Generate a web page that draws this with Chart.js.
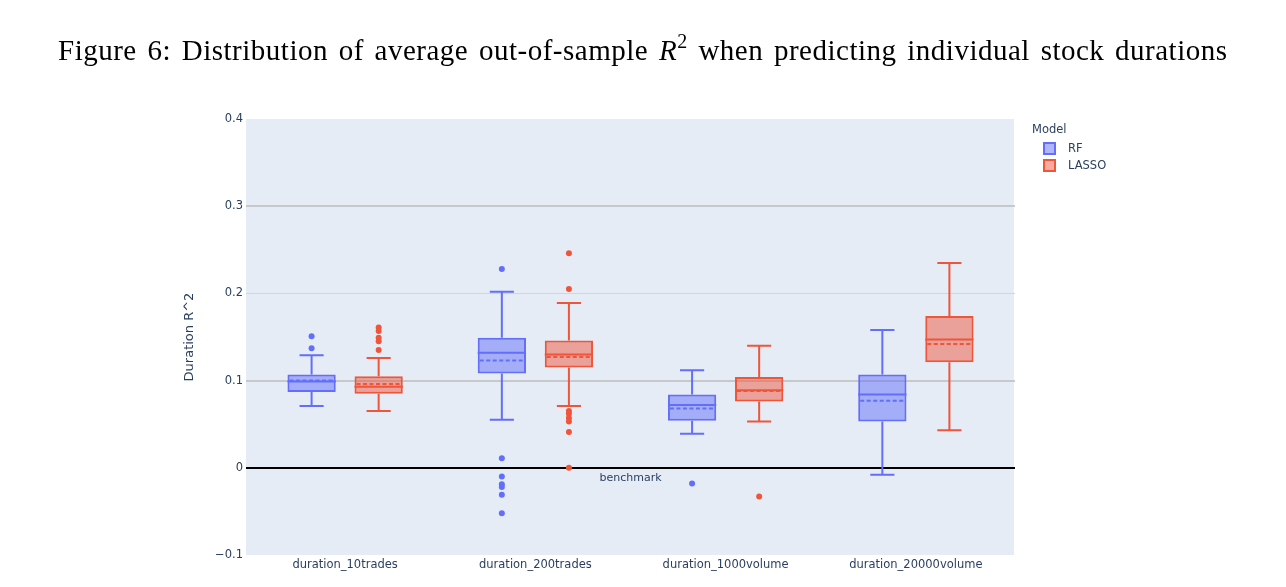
<!DOCTYPE html>
<html>
<head>
<meta charset="utf-8">
<script src="https://cdn.jsdelivr.net/npm/chart.js@4.4.1/dist/chart.umd.min.js"></script>
<style>
  html, body { margin: 0; padding: 0; background: #fff; }
  #wrap { position: relative; width: 1286px; height: 587px; overflow: hidden; }
  #chart { position: absolute; left: 0; top: 0; }
  .fig-title {
    position: absolute; left: 58px; top: 34px; white-space: nowrap;
    font-family: "Liberation Serif", "DejaVu Serif", serif; font-size: 29px; color: #000;
    letter-spacing: 0.5px; word-spacing: 3px;
  }
  .fig-title sup { font-size: 20px; vertical-align: 12px; line-height: 0; }
  .legend { position: absolute; left: 1032px; top: 122px; font-family: "DejaVu Sans", sans-serif; font-size: 11.5px; color: #2a3f5f; }
  .legend .item { position: absolute; left: 11px; white-space: nowrap; }
  .legend .swatch { position: absolute; left: 0; width: 9px; height: 9px; border: 2px solid; }
  .legend .label { position: absolute; left: 25px; top: -1px; }
</style>
</head>
<body>
<div id="wrap">
  <canvas id="chart" width="1286" height="587"></canvas>
  <div class="fig-title">Figure 6: Distribution of average out-of-sample <i>R</i><sup>2</sup> when predicting individual stock durations</div>
  <div class="legend">
    <div style="position:absolute;left:0;top:0;">Model</div>
    <div class="item" style="top:20px;"><span class="swatch" style="border-color:#636efa;background:rgba(99,110,250,0.5);"></span><span class="label">RF</span></div>
    <div class="item" style="top:37px;"><span class="swatch" style="border-color:#ef553b;background:rgba(239,85,59,0.5);"></span><span class="label">LASSO</span></div>
  </div>
</div>
<script>
// categories and box statistics
const categories = ["duration_10trades", "duration_200trades", "duration_1000volume", "duration_20000volume"];

const rfLower   = [0.071, 0.055, 0.039, -0.008];
const rfQ1      = [0.087, 0.108, 0.054, 0.053];
const rfMedian  = [0.099, 0.132, 0.072, 0.084];
const rfMean    = [0.100, 0.123, 0.068, 0.077];
const rfQ3      = [0.107, 0.149, 0.084, 0.107];
const rfUpper   = [0.129, 0.202, 0.112, 0.158];
const rfOutliers = [
  [0.151, 0.137],
  [0.228, 0.011, -0.010, -0.019, -0.022, -0.031, -0.052],
  [-0.018],
  []
];

const lassoLower   = [0.065, 0.071, 0.053, 0.043];
const lassoQ1      = [0.085, 0.115, 0.076, 0.121];
const lassoMedian  = [0.093, 0.130, 0.089, 0.147];
const lassoMean    = [0.096, 0.127, 0.088, 0.142];
const lassoQ3      = [0.105, 0.146, 0.104, 0.174];
const lassoUpper   = [0.126, 0.189, 0.140, 0.235];
const lassoOutliers = [
  [0.161, 0.157, 0.149, 0.145, 0.135],
  [0.246, 0.205, 0.065, 0.062, 0.057, 0.053, 0.041, 0.000],
  [-0.033],
  []
];

const yTicks = [-0.1, 0, 0.1, 0.2, 0.3, 0.4];

const RF_COLOR = "#636efa";
const LASSO_COLOR = "#ef553b";
const FONT = "DejaVu Sans";
const TEXT = "#2a3f5f";

const extra = [
  { lower: rfLower, median: rfMedian, mean: rfMean, upper: rfUpper, outliers: rfOutliers, color: RF_COLOR },
  { lower: lassoLower, median: lassoMedian, mean: lassoMean, upper: lassoUpper, outliers: lassoOutliers, color: LASSO_COLOR }
];

function gridStyle(v) {
  const r = Math.round(v * 10);
  if (r === 0) return ["#000000", 2];
  if (r === 1 || r === 3) return ["#bcbcbc", 1.5];
  if (r === 2) return ["#d2d5da", 1];
  return null;
}

// plot background + horizontal grid (a few px wider than the category area, like the original)
const bgPlugin = {
  id: "plotBg",
  beforeDatasetsDraw(chart) {
    const { ctx, chartArea: a } = chart;
    const y = chart.scales.y;
    const l = a.left - 4, r = a.right + 3;
    ctx.save();
    ctx.fillStyle = "#e5ecf6";
    ctx.fillRect(l, a.top, r - l, a.bottom - a.top);
    yTicks.forEach(v => {
      const st = gridStyle(v);
      if (!st) return;
      const py = Math.round(y.getPixelForValue(v)) + (st[1] === 1 ? 0.5 : 0);
      ctx.strokeStyle = st[0];
      ctx.lineWidth = st[1];
      ctx.beginPath();
      ctx.moveTo(l, py); ctx.lineTo(r + 1, py);
      ctx.stroke();
    });
    ctx.restore();
  }
};

// whiskers, median, mean and outliers on top of the floating bars
const boxPlugin = {
  id: "boxExtras",
  afterDatasetsDraw(chart) {
    const { ctx } = chart;
    const y = chart.scales.y;
    extra.forEach((s, di) => {
      const meta = chart.getDatasetMeta(di);
      meta.data.forEach((bar, i) => {
        const x = bar.x, w = bar.width;
        const top = Math.min(bar.y, bar.base), bottom = Math.max(bar.y, bar.base);
        ctx.save();
        ctx.strokeStyle = s.color;
        ctx.fillStyle = s.color;
        ctx.lineWidth = 2;
        // whiskers
        const yl = y.getPixelForValue(s.lower[i]);
        const yu = y.getPixelForValue(s.upper[i]);
        ctx.beginPath();
        ctx.moveTo(x, bottom); ctx.lineTo(x, yl);
        ctx.moveTo(x, top); ctx.lineTo(x, yu);
        ctx.moveTo(x - w / 4, yl); ctx.lineTo(x + w / 4, yl);
        ctx.moveTo(x - w / 4, yu); ctx.lineTo(x + w / 4, yu);
        ctx.stroke();
        // median
        const ym = y.getPixelForValue(s.median[i]);
        ctx.beginPath();
        ctx.moveTo(x - w / 2, ym); ctx.lineTo(x + w / 2, ym);
        ctx.stroke();
        // mean
        const yMean = y.getPixelForValue(s.mean[i]);
        ctx.setLineDash([4, 2.5]);
        ctx.beginPath();
        ctx.moveTo(x - w / 2 + 2, yMean); ctx.lineTo(x + w / 2 - 2, yMean);
        ctx.stroke();
        ctx.setLineDash([]);
        // outliers
        s.outliers[i].forEach(v => {
          ctx.beginPath();
          ctx.arc(x, y.getPixelForValue(v), 3, 0, Math.PI * 2);
          ctx.fill();
        });
        ctx.restore();
      });
    });
    // benchmark annotation below the zero line
    const xs = chart.scales.x;
    ctx.save();
    ctx.font = "11px " + FONT;
    ctx.fillStyle = TEXT;
    ctx.textAlign = "center";
    ctx.textBaseline = "middle";
    ctx.fillText("benchmark", xs.getPixelForValue(1.5), y.getPixelForValue(0) + 10);
    ctx.restore();
  }
};

new Chart(document.getElementById("chart"), {
  type: "bar",
  data: {
    labels: categories,
    datasets: [
      {
        label: "RF",
        data: rfQ1.map((q, i) => [q, rfQ3[i]]),
        backgroundColor: "rgba(99,110,250,0.5)",
        borderColor: RF_COLOR,
        borderWidth: 2,
        borderSkipped: false,
        categoryPercentage: 0.705,
        barPercentage: 0.72
      },
      {
        label: "LASSO",
        data: lassoQ1.map((q, i) => [q, lassoQ3[i]]),
        backgroundColor: "rgba(239,85,59,0.5)",
        borderColor: LASSO_COLOR,
        borderWidth: 2,
        borderSkipped: false,
        categoryPercentage: 0.705,
        barPercentage: 0.72
      }
    ]
  },
  options: {
    responsive: false,
    animation: false,
    devicePixelRatio: 1,
    layout: { padding: { left: 182, right: 275, top: 119, bottom: 12 } },
    plugins: { legend: { display: false }, tooltip: { enabled: false } },
    scales: {
      x: {
        grid: { display: false, drawTicks: false },
        border: { display: false },
        ticks: { color: TEXT, font: { family: FONT, size: 11.5 }, padding: 3, maxRotation: 0 },
        afterFit: s => { s.height = 20; }
      },
      y: {
        min: -0.1,
        max: 0.4,
        border: { display: false },
        afterBuildTicks: s => { s.ticks = yTicks.map(v => ({ value: v })); },
        afterFit: s => { s.width = 68; },
        grid: { display: false, drawTicks: false },
        ticks: {
          color: TEXT,
          font: { family: FONT, size: 11.5 },
          padding: 7,
          callback: v => {
            const r = Math.round(v * 10) / 10;
            if (r === 0) return "0";
            return r < 0 ? "\u2212" + Math.abs(r).toFixed(1) : r.toFixed(1);
          }
        },
        title: {
          display: true,
          text: "Duration R^2",
          color: TEXT,
          font: { family: FONT, size: 13 },
          padding: 0
        }
      }
    }
  },
  plugins: [bgPlugin, boxPlugin]
});
</script>
</body>
</html>
